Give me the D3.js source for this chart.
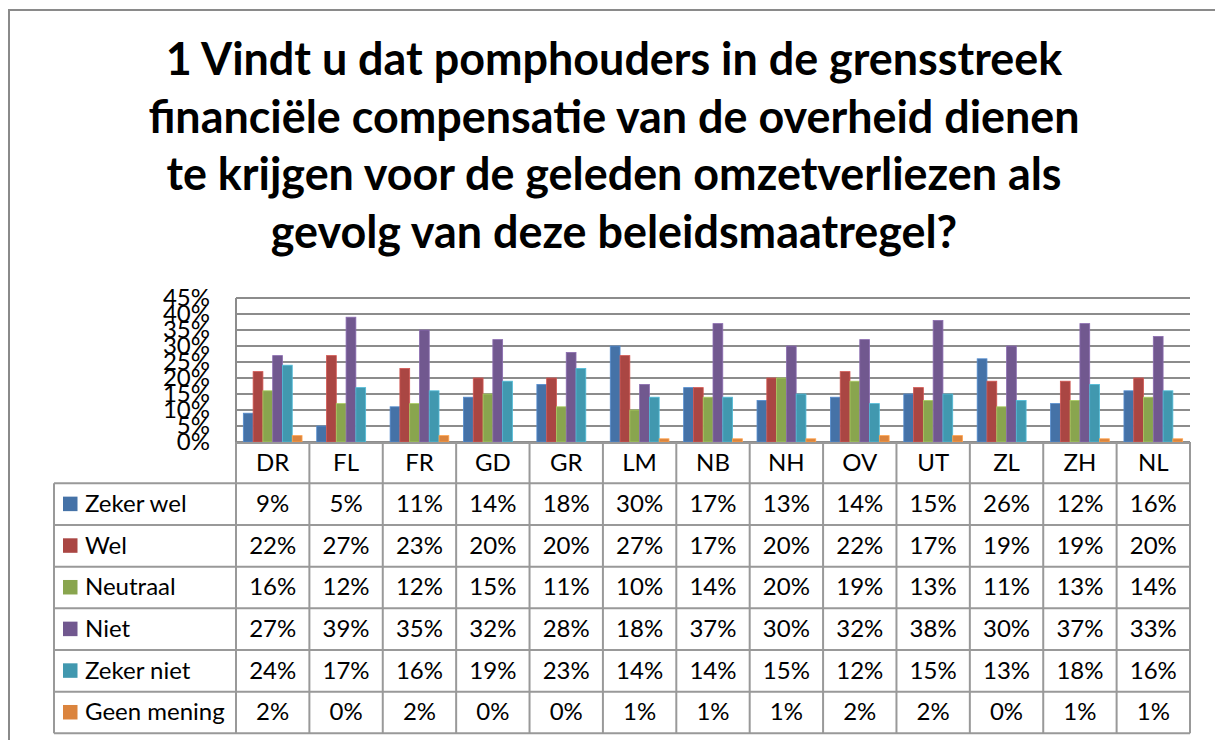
<!DOCTYPE html>
<html>
<head>
<meta charset="utf-8">
<script src="https://cdn.jsdelivr.net/npm/d3@7/dist/d3.min.js"></script>
<style>
  body { margin: 0; background: #fff; }
  svg { display: block; font-family: Lato, "Open Sans", sans-serif; }
</style>
</head>
<body>
<svg id="chart" width="1215" height="740"></svg>
<script>
const titleLines = [
  '1 Vindt u dat pomphouders in de grensstreek',
  'financiële compensatie van de overheid dienen',
  'te krijgen voor de geleden omzetverliezen als',
  'gevolg van deze beleidsmaatregel?'
]
const regions = ['DR', 'FL', 'FR', 'GD', 'GR', 'LM', 'NB', 'NH', 'OV', 'UT', 'ZL', 'ZH', 'NL']
const seriesNames = ['Zeker wel', 'Wel', 'Neutraal', 'Niet', 'Zeker niet', 'Geen mening']
const zekerWel = [9, 5, 11, 14, 18, 30, 17, 13, 14, 15, 26, 12, 16]
const wel = [22, 27, 23, 20, 20, 27, 17, 20, 22, 17, 19, 19, 20]
const neutraal = [16, 12, 12, 15, 11, 10, 14, 20, 19, 13, 11, 13, 14]
const niet = [27, 39, 35, 32, 28, 18, 37, 30, 32, 38, 30, 37, 33]
const zekerNiet = [24, 17, 16, 19, 23, 14, 14, 15, 12, 15, 13, 18, 16]
const geenMening = [2, 0, 2, 0, 0, 1, 1, 1, 2, 2, 0, 1, 1]
const yTicks = [0, 5, 10, 15, 20, 25, 30, 35, 40, 45]

const seriesValues = [zekerWel, wel, neutraal, niet, zekerNiet, geenMening]
const colors = ['#4572A7', '#AA4643', '#89A54E', '#71588F', '#4198AF', '#DB843D']

const svg = d3.select('#chart')
const plot = { left: 236, right: 1190, top: 298, bottom: 442 }
const rowH = 41.67
const tableLeft = 54
const headerBottom = 483.3
const gridColor = '#8c8c8c'

// rand om de hele grafiek
svg.append('path')
  .attr('d', 'M9,740 V10 H1215')
  .attr('fill', 'none')
  .attr('stroke', '#8a8a8a')
  .attr('stroke-width', 2)

// titel
const title = svg.append('g')
  .attr('font-weight', 'bold')
  .attr('text-anchor', 'middle')
  .attr('fill', '#000')
const titleText = title.selectAll('text')
  .data(titleLines)
  .enter()
  .append('text')
  .attr('x', 614)
  .attr('y', (d, i) => 75 + i * 57.7)
  .attr('font-size', 42)
  .text(d => d)
const w0 = titleText.node().getComputedTextLength()
titleText.attr('font-size', 42 * 897 / w0)

// schalen
const x0 = d3.scaleBand()
  .domain(regions)
  .range([plot.left, plot.right])
  .paddingInner(0)
  .paddingOuter(0)
const x1 = d3.scaleBand()
  .domain(seriesNames)
  .range([0, x0.bandwidth()])
  .paddingInner(0)
  .paddingOuter(0.75)
const y = d3.scaleLinear()
  .domain([0, 45])
  .range([plot.bottom, plot.top])

// rasterlijnen
svg.append('g')
  .selectAll('line')
  .data(yTicks)
  .enter()
  .append('line')
  .attr('x1', plot.left)
  .attr('x2', plot.right)
  .attr('y1', d => y(d))
  .attr('y2', d => y(d))
  .attr('stroke', gridColor)
  .attr('stroke-width', 2)

// y-as
const yAxis = svg.append('g')
  .attr('transform', `translate(${plot.left},0)`)
  .call(d3.axisLeft(y).tickValues(yTicks).tickSize(0).tickPadding(26).tickFormat(d => d + '%'))
yAxis.select('.domain')
  .attr('stroke', gridColor)
  .attr('stroke-width', 2)
  .attr('d', `M0,${plot.top}V${plot.bottom}`)
yAxis.selectAll('text')
  .attr('font-size', 24)
  .attr('font-family', 'Lato, sans-serif')
  .attr('fill', '#000')

// staven
const groups = svg.append('g')
  .selectAll('g')
  .data(regions)
  .enter()
  .append('g')
  .attr('transform', d => `translate(${x0(d)},0)`)
groups.selectAll('rect')
  .data((d, i) => seriesNames.map((s, j) => ({ s, v: seriesValues[j][i], c: colors[j] })))
  .enter()
  .append('rect')
  .attr('x', d => x1(d.s))
  .attr('width', x1.bandwidth())
  .attr('y', d => y(d.v))
  .attr('height', d => plot.bottom - y(d.v))
  .attr('fill', d => d.c)
  .attr('stroke', d => d3.color(d.c).brighter(0.6))
  .attr('stroke-width', 0.8)

// datatabel
const table = svg.append('g')
const tableBottom = headerBottom + rowH * seriesNames.length
// horizontale lijnen
const hLines = [plot.bottom + 1].concat(d3.range(seriesNames.length + 1).map(i => headerBottom + i * rowH))
table.selectAll('.hline')
  .data(hLines)
  .enter()
  .append('line')
  .attr('class', 'hline')
  .attr('x1', (d, i) => i === 0 ? plot.left : tableLeft)
  .attr('x2', plot.right)
  .attr('y1', d => d)
  .attr('y2', d => d)
  .attr('stroke', '#999')
  .attr('stroke-width', 2)
// verticale lijnen
const vLines = regions.map(r => x0(r)).concat([plot.right])
table.selectAll('.vline')
  .data(vLines)
  .enter()
  .append('line')
  .attr('class', 'vline')
  .attr('x1', d => d)
  .attr('x2', d => d)
  .attr('y1', plot.bottom)
  .attr('y2', tableBottom)
  .attr('stroke', '#999')
  .attr('stroke-width', 2)
table.append('line')
  .attr('x1', tableLeft)
  .attr('x2', tableLeft)
  .attr('y1', headerBottom)
  .attr('y2', tableBottom)
  .attr('stroke', '#999')
  .attr('stroke-width', 2)

// kolomkoppen
table.selectAll('.head')
  .data(regions)
  .enter()
  .append('text')
  .attr('class', 'head')
  .attr('x', d => x0(d) + x0.bandwidth() / 2)
  .attr('y', plot.bottom + (headerBottom - plot.bottom) / 2 + 8)
  .attr('text-anchor', 'middle')
  .attr('font-size', 24)
  .text(d => d)

// rijen
const rows = table.selectAll('.row')
  .data(seriesNames)
  .enter()
  .append('g')
  .attr('class', 'row')
  .attr('transform', (d, i) => `translate(0,${headerBottom + i * rowH})`)
rows.append('rect')
  .attr('x', 63)
  .attr('y', rowH / 2 - 7.5)
  .attr('width', 14.5)
  .attr('height', 14.5)
  .attr('fill', (d, i) => colors[i])
rows.append('text')
  .attr('x', 85)
  .attr('y', rowH / 2 + 8)
  .attr('font-size', 24)
  .text(d => d)
rows.selectAll('.val')
  .data((d, i) => seriesValues[i].map((v, k) => ({ v, r: regions[k] })))
  .enter()
  .append('text')
  .attr('class', 'val')
  .attr('x', d => x0(d.r) + x0.bandwidth() / 2)
  .attr('y', rowH / 2 + 8)
  .attr('text-anchor', 'middle')
  .attr('font-size', 24)
  .text(d => d.v + '%')
</script>
</body>
</html>
